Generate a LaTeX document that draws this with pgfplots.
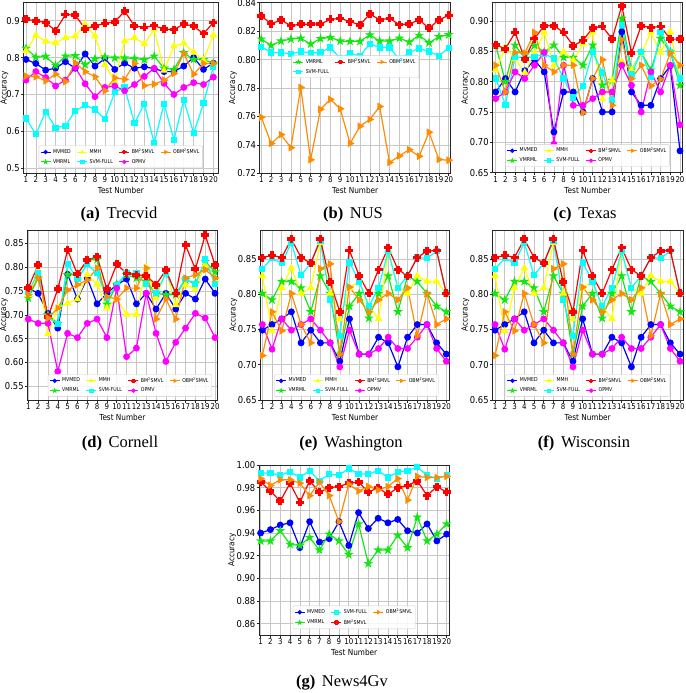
\documentclass[border=0pt]{standalone}
\usepackage{fontspec}
\setmainfont{Liberation Serif}
\newfontfamily\axisfont[FakeStretch=0.88]{DejaVu Sans}
\usepackage{pgfplots}
\usepackage{pgfplotstable}
\pgfplotsset{compat=1.18}

\definecolor{cblue}{RGB}{0,0,255}
\definecolor{cgreen}{RGB}{20,230,20}
\definecolor{cyellow}{RGB}{255,255,0}
\definecolor{ccyan}{RGB}{0,255,255}
\definecolor{cred}{RGB}{255,0,0}
\definecolor{cmag}{RGB}{255,0,255}
\definecolor{corange}{RGB}{255,140,0}

\pgfdeclareplotmark{fplus}{%
  \pgfpathmoveto{\pgfqpoint{-0.36\pgfplotmarksize}{\pgfplotmarksize}}%
  \pgfpathlineto{\pgfqpoint{0.36\pgfplotmarksize}{\pgfplotmarksize}}%
  \pgfpathlineto{\pgfqpoint{0.36\pgfplotmarksize}{0.36\pgfplotmarksize}}%
  \pgfpathlineto{\pgfqpoint{\pgfplotmarksize}{0.36\pgfplotmarksize}}%
  \pgfpathlineto{\pgfqpoint{\pgfplotmarksize}{-0.36\pgfplotmarksize}}%
  \pgfpathlineto{\pgfqpoint{0.36\pgfplotmarksize}{-0.36\pgfplotmarksize}}%
  \pgfpathlineto{\pgfqpoint{0.36\pgfplotmarksize}{-\pgfplotmarksize}}%
  \pgfpathlineto{\pgfqpoint{-0.36\pgfplotmarksize}{-\pgfplotmarksize}}%
  \pgfpathlineto{\pgfqpoint{-0.36\pgfplotmarksize}{-0.36\pgfplotmarksize}}%
  \pgfpathlineto{\pgfqpoint{-\pgfplotmarksize}{-0.36\pgfplotmarksize}}%
  \pgfpathlineto{\pgfqpoint{-\pgfplotmarksize}{0.36\pgfplotmarksize}}%
  \pgfpathlineto{\pgfqpoint{-0.36\pgfplotmarksize}{0.36\pgfplotmarksize}}%
  \pgfpathclose\pgfusepathqfillstroke}
\pgfdeclareplotmark{fstar}{%
  \pgfpathmoveto{\pgfqpoint{0pt}{\pgfplotmarksize}}%
  \pgfpathlineto{\pgfqpoint{0.2245\pgfplotmarksize}{0.309\pgfplotmarksize}}%
  \pgfpathlineto{\pgfqpoint{0.951\pgfplotmarksize}{0.309\pgfplotmarksize}}%
  \pgfpathlineto{\pgfqpoint{0.363\pgfplotmarksize}{-0.118\pgfplotmarksize}}%
  \pgfpathlineto{\pgfqpoint{0.588\pgfplotmarksize}{-0.809\pgfplotmarksize}}%
  \pgfpathlineto{\pgfqpoint{0pt}{-0.382\pgfplotmarksize}}%
  \pgfpathlineto{\pgfqpoint{-0.588\pgfplotmarksize}{-0.809\pgfplotmarksize}}%
  \pgfpathlineto{\pgfqpoint{-0.363\pgfplotmarksize}{-0.118\pgfplotmarksize}}%
  \pgfpathlineto{\pgfqpoint{-0.951\pgfplotmarksize}{0.309\pgfplotmarksize}}%
  \pgfpathlineto{\pgfqpoint{-0.2245\pgfplotmarksize}{0.309\pgfplotmarksize}}%
  \pgfpathclose\pgfusepathqfillstroke}
\pgfdeclareplotmark{triright}{%
  \pgfpathmoveto{\pgfqpoint{\pgfplotmarksize}{0pt}}%
  \pgfpathlineto{\pgfqpoint{-0.5\pgfplotmarksize}{0.866\pgfplotmarksize}}%
  \pgfpathlineto{\pgfqpoint{-0.5\pgfplotmarksize}{-0.866\pgfplotmarksize}}%
  \pgfpathclose\pgfusepathqfillstroke}

\pgfplotsset{
  s1/.style={color=cblue, mark=*, mark size=2.8pt},
  s2/.style={color=cgreen, mark=fstar, mark size=3.2pt},
  s3/.style={color=cyellow, mark=triangle*, mark size=3.3pt},
  s4/.style={color=ccyan, mark=square*, mark size=2.5pt},
  s5/.style={color=cred, mark=fplus, mark size=3.4pt},
  s6/.style={color=cmag, mark=*, mark size=2.8pt},
  s7/.style={color=corange, mark=triright, mark size=3.3pt},
  panel/.style={
    scale only axis, anchor=north west,
    xtick={1,...,20},
    grid=major, grid style={color=gray!45, line width=0.6pt},
    axis line style={black!85, line width=0.6pt},
    tick align=outside, tick pos=left, major tick length=2.5pt,
    tick style={black!85, line width=0.5pt},
    xticklabel style={font=\axisfont\fontsize{8}{9}\selectfont, inner sep=1pt},
    yticklabel style={font=\axisfont\fontsize{9.5}{10}\selectfont, inner sep=1pt},
    label style={font=\axisfont\fontsize{8.3}{9}\selectfont},
    ylabel shift=-4pt,
    xlabel={Test Number}, ylabel={Accuracy},
    /pgf/number format/assume math mode=true,
    scaled y ticks=false,
    every axis plot/.append style={line width=1.2pt},
    legend cell align=left,
    legend style={font=\axisfont\fontsize{5.3}{5.8}\selectfont, draw=gray!40,
      rounded corners=1pt, fill=white, fill opacity=0.85, text opacity=1,
      inner sep=1.2pt, row sep=0pt, anchor=south,
      /tikz/every even column/.append style={column sep=4pt}},
    legend image code/.code={\draw[mark repeat=2,mark phase=2] plot coordinates {(0pt,0pt) (5pt,0pt) (10pt,0pt)};},
    legend image post style={mark size=1.7pt, line width=0.9pt},
  },
  two/.style={yticklabel style={/pgf/number format/.cd, fixed, fixed zerofill, precision=2}},
}

% columns: x mvmed vmrml mmh svm bm opmv obm
\pgfplotstableread{
x mvmed vmrml mmh svm bm opmv obm
1 0.795 0.825 0.818 0.635 0.904 0.739 0.750
2 0.784 0.801 0.860 0.592 0.900 0.762 0.748
3 0.766 0.803 0.844 0.653 0.895 0.746 0.737
4 0.771 0.779 0.840 0.610 0.873 0.723 0.755
5 0.789 0.804 0.854 0.615 0.917 0.739 0.735
6 0.771 0.805 0.858 0.655 0.915 0.773 0.786
7 0.810 0.781 0.891 0.671 0.878 0.729 0.762
8 0.777 0.797 0.858 0.659 0.886 0.694 0.748
9 0.797 0.802 0.781 0.633 0.893 0.719 0.710
10 0.768 0.799 0.735 0.706 0.897 0.723 0.745
11 0.785 0.799 0.845 0.719 0.926 0.710 0.741
12 0.771 0.798 0.854 0.622 0.886 0.727 0.784
13 0.775 0.794 0.837 0.675 0.882 0.749 0.724
14 0.770 0.804 0.877 0.568 0.887 0.771 0.728
15 0.762 0.771 0.765 0.675 0.877 0.730 0.739
16 0.762 0.768 0.831 0.577 0.876 0.700 0.757
17 0.777 0.813 0.839 0.685 0.891 0.719 0.811
18 0.800 0.795 0.814 0.595 0.885 0.732 0.755
19 0.768 0.794 0.793 0.676 0.865 0.727 0.784
20 0.785 0.785 0.861 0.775 0.895 0.747 0.784
}\tA
\pgfplotstableread{
x vmrml svm bm obm
1 0.8144 0.8090 0.8305 0.7595
2 0.8100 0.8050 0.8253 0.7410
3 0.8130 0.8050 0.8277 0.7472
4 0.8144 0.8040 0.8239 0.7380
5 0.8150 0.8057 0.8249 0.7804
6 0.8110 0.8047 0.8249 0.7295
7 0.8147 0.8050 0.8250 0.7650
8 0.8156 0.8085 0.8282 0.7720
9 0.8130 0.8007 0.8290 0.7654
10 0.8128 0.8045 0.8267 0.7410
11 0.8128 0.8026 0.8244 0.7531
12 0.8173 0.8110 0.8320 0.7579
13 0.8130 0.8085 0.8280 0.7670
14 0.8130 0.8085 0.8290 0.7276
15 0.8150 0.8000 0.8246 0.7323
16 0.8123 0.8050 0.8250 0.7366
17 0.8170 0.8078 0.8280 0.7320
18 0.8118 0.8057 0.8220 0.7489
19 0.8160 0.8026 0.8280 0.7297
20 0.8175 0.8083 0.8310 0.7292
}\tB
\pgfplotstableread{
x mvmed vmrml mmh svm bm opmv obm
1 0.783 0.860 0.819 0.805 0.8605 0.772 0.827
2 0.805 0.800 0.857 0.762 0.854 0.783 0.783
3 0.783 0.860 0.838 0.840 0.881 0.816 0.848
4 0.818 0.838 0.815 0.840 0.837 0.805 0.847
5 0.836 0.860 0.847 0.840 0.871 0.827 0.881
6 0.816 0.849 0.881 0.846 0.892 0.848 0.827
7 0.717 0.860 0.827 0.838 0.892 0.697 0.816
8 0.783 0.840 0.849 0.805 0.881 0.827 0.827
9 0.783 0.840 0.835 0.774 0.859 0.761 0.827
10 0.750 0.827 0.862 0.793 0.868 0.761 0.749
11 0.805 0.860 0.881 0.849 0.8885 0.772 0.805
12 0.750 0.794 0.771 0.815 0.891 0.783 0.836
13 0.750 0.802 0.802 0.770 0.870 0.783 0.761
14 0.882 0.904 0.833 0.893 0.925 0.827 0.869
15 0.783 0.819 0.819 0.813 0.847 0.794 0.805
16 0.761 0.848 0.846 0.849 0.892 0.750 0.827
17 0.761 0.819 0.881 0.808 0.889 0.816 0.793
18 0.805 0.871 0.848 0.882 0.891 0.783 0.804
19 0.826 0.849 0.882 0.849 0.870 0.827 0.847
20 0.686 0.794 0.805 0.805 0.870 0.729 0.827
}\tC
\pgfplotstableread{
x mvmed vmrml mmh svm bm opmv obm
1 0.756 0.735 0.742 0.749 0.756 0.691 0.742
2 0.745 0.777 0.794 0.787 0.805 0.682 0.777
3 0.703 0.700 0.660 0.695 0.695 0.682 0.693
4 0.672 0.682 0.715 0.680 0.754 0.581 0.714
5 0.785 0.784 0.724 0.806 0.836 0.661 0.752
6 0.733 0.784 0.733 0.775 0.785 0.652 0.763
7 0.777 0.815 0.784 0.806 0.815 0.682 0.773
8 0.723 0.816 0.764 0.787 0.822 0.691 0.798
9 0.745 0.722 0.714 0.735 0.754 0.652 0.738
10 0.763 0.764 0.733 0.763 0.806 0.756 0.733
11 0.775 0.784 0.701 0.787 0.787 0.612 0.756
12 0.723 0.777 0.701 0.787 0.784 0.630 0.756
13 0.745 0.770 0.799 0.764 0.782 0.745 0.798
14 0.712 0.745 0.735 0.745 0.763 0.661 0.691
15 0.745 0.742 0.794 0.787 0.794 0.602 0.733
16 0.712 0.742 0.721 0.745 0.745 0.642 0.691
17 0.745 0.773 0.763 0.775 0.846 0.672 0.777
18 0.733 0.766 0.754 0.764 0.796 0.703 0.784
19 0.775 0.812 0.805 0.816 0.867 0.693 0.795
20 0.745 0.790 0.773 0.764 0.805 0.652 0.777
}\tD
\pgfplotstableread{
x mvmed vmrml mmh svm bm opmv obm
1 0.749 0.801 0.826 0.836 0.852 0.757 0.713
2 0.757 0.792 0.748 0.851 0.855 0.722 0.775
3 0.765 0.818 0.809 0.844 0.852 0.765 0.748
4 0.775 0.818 0.837 0.873 0.878 0.749 0.801
5 0.731 0.809 0.801 0.827 0.852 0.757 0.757
6 0.749 0.775 0.809 0.844 0.844 0.765 0.731
7 0.731 0.826 0.873 0.875 0.878 0.749 0.836
8 0.731 0.801 0.801 0.792 0.817 0.731 0.843
9 0.705 0.715 0.765 0.741 0.775 0.697 0.715
10 0.765 0.783 0.809 0.845 0.862 0.749 0.810
11 0.715 0.801 0.818 0.818 0.826 0.715 0.792
12 0.715 0.766 0.783 0.783 0.801 0.715 0.775
13 0.739 0.801 0.765 0.809 0.835 0.723 0.792
14 0.731 0.826 0.861 0.861 0.866 0.739 0.801
15 0.697 0.775 0.809 0.809 0.835 0.723 0.792
16 0.739 0.826 0.801 0.826 0.826 0.723 0.809
17 0.757 0.818 0.826 0.852 0.852 0.739 0.741
18 0.757 0.801 0.818 0.851 0.861 0.757 0.801
19 0.731 0.783 0.818 0.861 0.862 0.723 0.757
20 0.715 0.775 0.801 0.801 0.801 0.705 0.765
}\tE
\pgfplotstableread{
x mvmed vmrml svm bm obm
1 0.940 0.933 0.993 0.985 0.988
2 0.943 0.933 0.993 0.977 0.982
3 0.947 0.942 0.991 0.968 0.987
4 0.949 0.930 0.994 0.984 0.987
5 0.927 0.929 0.989 0.967 0.984
6 0.950 0.936 0.995 0.986 0.973
7 0.932 0.925 0.986 0.976 0.985
8 0.935 0.939 0.992 0.980 0.973
9 0.950 0.933 0.991 0.981 0.950
10 0.929 0.921 0.997 0.984 0.983
11 0.958 0.948 0.992 0.985 0.977
12 0.944 0.913 0.992 0.976 0.981
13 0.953 0.925 0.995 0.980 0.978
14 0.949 0.925 0.989 0.974 0.981
15 0.952 0.938 0.994 0.980 0.988
16 0.942 0.927 0.995 0.982 0.969
17 0.940 0.954 0.998 0.986 0.990
18 0.948 0.933 0.991 0.973 0.989
19 0.933 0.939 0.988 0.981 0.989
20 0.939 0.948 0.991 0.976 0.990
}\tG

\newcommand{\sevenplots}[1]{%
  \addplot[s1, forget plot] table[x=x,y=mvmed]{#1};
  \addplot[s2, forget plot] table[x=x,y=vmrml]{#1};
  \addplot[s3, forget plot] table[x=x,y=mmh]{#1};
  \addplot[s4, forget plot] table[x=x,y=svm]{#1};
  \addplot[s5, forget plot] table[x=x,y=bm]{#1};
  \addplot[s6, forget plot] table[x=x,y=opmv]{#1};
  \addplot[s7, forget plot] table[x=x,y=obm]{#1};
  \addlegendimage{s1}\addlegendentry{MVMED}
  \addlegendimage{s3}\addlegendentry{MMH}
  \addlegendimage{s5}\addlegendentry{BM\textsuperscript{2}SMVL}
  \addlegendimage{s7}\addlegendentry{OBM\textsuperscript{2}SMVL}
  \addlegendimage{s2}\addlegendentry{VMRML}
  \addlegendimage{s4}\addlegendentry{SVM-FULL}
  \addlegendimage{s6}\addlegendentry{OPMV}
}
\newcommand{\subcap}[2]{{\fontsize{16.5}{18}\selectfont\textbf{(#1)}\hspace{0.4em}#2}}

\begin{document}
\begin{tikzpicture}
\path[use as bounding box] (0pt,0pt) rectangle (685pt,-693pt);

% (a)
\begin{axis}[panel, at={(23.3pt,-2.7pt)}, width=195pt, height=170.6pt,
  xmin=0.73, xmax=20.5, ymin=0.486, ymax=0.949, ytick={0.5,0.6,0.7,0.8,0.9},
  yticklabel style={/pgf/number format/.cd, fixed, fixed zerofill, precision=1},
  ylabel shift=-6.5pt,
  legend columns=4, legend style={at={(0.5,0.031)}}]
\sevenplots{\tA}
\end{axis}
\node[anchor=base] at (119pt,-218pt) {\subcap{a}{Trecvid}};

% (b)
\begin{axis}[panel, two, at={(259.7pt,-2.7pt)}, width=191pt, height=170.6pt,
  xmin=0.84, xmax=20.2, ymin=0.72, ymax=0.84, ytick={0.72,0.74,0.76,0.78,0.80,0.82,0.84},
  legend columns=3, legend style={at={(0.5,0.559)}}]
\addplot[s2, forget plot] table[x=x,y=vmrml]{\tB};
\addplot[s4, forget plot] table[x=x,y=svm]{\tB};
\addplot[s5, forget plot] table[x=x,y=bm]{\tB};
\addplot[s7, forget plot] table[x=x,y=obm]{\tB};
\addlegendimage{s2}\addlegendentry{VMRML}
\addlegendimage{s5}\addlegendentry{BM\textsuperscript{2}SMVL}
\addlegendimage{s7}\addlegendentry{OBM\textsuperscript{2}SMVL}
\addlegendimage{s4}\addlegendentry{SVM-FULL}
\end{axis}
\node[anchor=base] at (353pt,-218pt) {\subcap{b}{NUS}};

% (c)
\begin{axis}[panel, two, at={(492.3pt,-2.7pt)}, width=190.4pt, height=170pt,
  xmin=0.65, xmax=20.28, ymin=0.65, ymax=0.93, ytick={0.65,0.70,0.75,0.80,0.85,0.90},
  legend columns=4, legend style={at={(0.5,0.035)}}]
\sevenplots{\tC}
\end{axis}
\node[anchor=base] at (585pt,-218pt) {\subcap{c}{Texas}};

% (d)
\begin{axis}[panel, two, at={(27.3pt,-230pt)}, width=190pt, height=170pt,
  xmin=0.9, xmax=20.23, ymin=0.521, ymax=0.878, ytick={0.55,0.60,0.65,0.70,0.75,0.80,0.85},
  ylabel shift=-7.5pt,
  legend columns=4, legend style={at={(0.54,0.019)}}]
\sevenplots{\tD}
\end{axis}
\node[anchor=base] at (120pt,-447pt) {\subcap{d}{Cornell}};

% (e)
\begin{axis}[panel, two, at={(260.3pt,-230pt)}, width=189.4pt, height=170pt,
  xmin=0.79, xmax=20.35, ymin=0.65, ymax=0.891, ytick={0.65,0.70,0.75,0.80,0.85},
  legend columns=4, legend style={at={(0.507,0.019)}}]
\sevenplots{\tE}
\end{axis}
\node[anchor=base] at (351pt,-447pt) {\subcap{e}{Washington}};

% (f)
\begin{axis}[panel, two, at={(492.3pt,-230pt)}, width=190.7pt, height=170pt,
  xmin=0.72, xmax=20.3, ymin=0.65, ymax=0.891, ytick={0.65,0.70,0.75,0.80,0.85},
  legend columns=4, legend style={at={(0.5,0.019)}}]
\sevenplots{\tE}
\end{axis}
\node[anchor=base] at (584pt,-447pt) {\subcap{f}{Wisconsin}};

% (g)
\begin{axis}[panel, two, at={(259pt,-465pt)}, width=190.3pt, height=170pt,
  xmin=0.83, xmax=20.27, ymin=0.85, ymax=1.0, ytick={0.86,0.88,0.90,0.92,0.94,0.96,0.98,1.00},
  legend columns=3, legend style={at={(0.5,0.035)}}]
\addplot[s1, forget plot] table[x=x,y=mvmed]{\tG};
\addplot[s2, forget plot] table[x=x,y=vmrml]{\tG};
\addplot[s4, forget plot] table[x=x,y=svm]{\tG};
\addplot[s5, forget plot] table[x=x,y=bm]{\tG};
\addplot[s7, forget plot] table[x=x,y=obm]{\tG};
\addlegendimage{s1}\addlegendentry{MVMED}
\addlegendimage{s4}\addlegendentry{SVM-FULL}
\addlegendimage{s7}\addlegendentry{OBM\textsuperscript{2}SMVL}
\addlegendimage{s2}\addlegendentry{VMRML}
\addlegendimage{s5}\addlegendentry{BM\textsuperscript{2}SMVL}
\end{axis}
\node[anchor=base] at (342pt,-686pt) {\subcap{g}{News4Gv}};
\end{tikzpicture}
\end{document}
